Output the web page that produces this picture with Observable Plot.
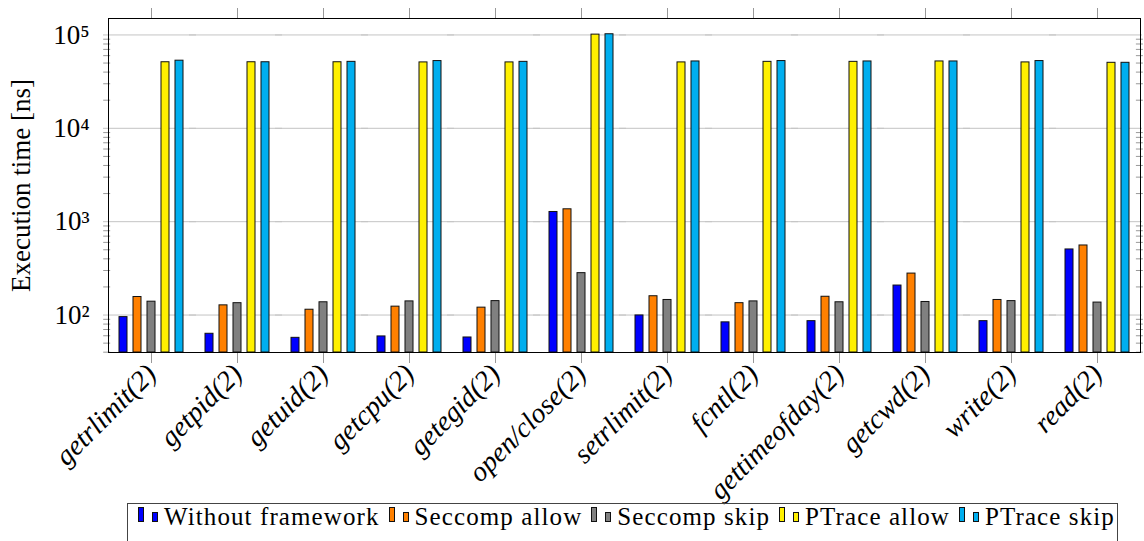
<!DOCTYPE html>
<html>
<head>
<meta charset="utf-8">
<script src="https://cdn.jsdelivr.net/npm/d3@7"></script>
<script src="https://cdn.jsdelivr.net/npm/@observablehq/plot@0.6"></script>
<style>
  body { margin: 0; background: #fff; font-family: "Liberation Serif", serif; }
  #chart { position: relative; width: 1144px; height: 541px; overflow: hidden; }
  #legend {
    position: absolute; left: 127px; top: 503px; width: 991px; height: 44px;
    box-sizing: border-box; border: 1px solid #444; display: flex; align-items: flex-start;
    padding-left: 8px; font-size: 25px; line-height: 1; letter-spacing: 1.1px;
  }
  #legend .item { display: flex; align-items: flex-start; margin-right: 7px; white-space: nowrap; }
  #legend svg { margin-right: 4px; }
</style>
</head>
<body>
<div id="chart"></div>
<script>
const categories = ["getrlimit(2)", "getpid(2)", "getuid(2)", "getcpu(2)", "getegid(2)", "open/close(2)",
  "setrlimit(2)", "fcntl(2)", "gettimeofday(2)", "getcwd(2)", "write(2)", "read(2)"];
const series = ["Without framework", "Seccomp allow", "Seccomp skip", "PTrace allow", "PTrace skip"];
const seriesColors = ["#0000ff", "#ff8000", "#808080", "#fff000", "#00aeef"];

const withoutFramework = [95, 63, 57, 59, 57.5, 1270, 99, 83.5, 86, 207, 86, 504];
const seccompAllow     = [156, 127, 114, 123, 120, 1357, 159, 134, 157, 278, 145, 556];
const seccompSkip      = [139, 134, 137, 140, 141, 281, 145, 140, 137, 138, 141, 136];
const ptraceAllow      = [51000, 51000, 51000, 50800, 50800, 100800, 50800, 51500, 51500, 52000, 50800, 50300];
const ptraceSkip       = [53000, 51000, 51500, 52500, 51500, 101700, 52000, 52500, 52000, 52000, 52500, 50300];

const yTickValues = [100, 1000, 10000, 100000];
const yTickLabels = ["10²", "10³", "10⁴", "10⁵"];
const yLabel = "Execution time [ns]";
const yMin = 39.7, yMax = 150000;

const seriesValues = [withoutFramework, seccompAllow, seccompSkip, ptraceAllow, ptraceSkip];
const data = categories.flatMap((c, i) => series.map((s, j) => ({category: c, series: s, value: seriesValues[j][i]})));
const minorTicks = [10, 100, 1000, 10000].flatMap(p => [2, 3, 4, 5, 6, 7, 8, 9].map(m => m * p))
  .filter(v => v >= yMin && v <= yMax);

const chart = Plot.plot({
  width: 1144, height: 503,
  marginLeft: 100, marginRight: 0.5, marginTop: 18, marginBottom: 151,
  style: {fontFamily: "'Liberation Serif', serif", background: "white", overflow: "visible"},
  fx: {domain: categories, paddingInner: 0, paddingOuter: 0.0388, align: 0.716, label: null},
  x: {domain: series, paddingInner: 0.403, paddingOuter: 0.7015, axis: null},
  y: {type: "log", domain: [yMin, yMax], axis: null, label: null},
  color: {domain: series, range: seriesColors},
  marks: [
    Plot.ruleY(yTickValues, {stroke: "#c4c4c4", strokeWidth: 1, insetLeft: -5, insetRight: -2}),
    Plot.barY(data, {fx: "category", x: "series", y1: yMin, y2: "value", fill: "series", stroke: "#111", strokeWidth: 1}),
    Plot.axisY(minorTicks, {anchor: "left", tickSize: -7, tickFormat: () => "", stroke: "#999", dx: -4.8, label: null}),
    Plot.axisY(minorTicks, {anchor: "right", tickSize: -7, tickFormat: () => "", stroke: "#999", dx: 1.9, label: null}),
    Plot.axisY(yTickValues, {anchor: "left", tickSize: 0, tickPadding: 14, fontSize: 27, dx: -4.8, label: null,
      tickFormat: d => yTickLabels[yTickValues.indexOf(d)]}),
    Plot.axisFx({anchor: "top", tickSize: 11, tickFormat: () => "", stroke: "#999", label: null}),
    Plot.axisFx({anchor: "bottom", tickSize: 11, tickRotate: -45, fontSize: 28, fontStyle: "italic",
      stroke: "#999", fill: "black", label: null}),
    Plot.text([yLabel], {facet: "super", frameAnchor: "left", textAnchor: "middle", rotate: -90, dx: -87, fontSize: 27}),
    Plot.frame({facet: "super", stroke: "black", strokeWidth: 1})
  ]
});
document.getElementById("chart").appendChild(chart);

// legend
const legend = document.createElement("div");
legend.id = "legend";
series.forEach((s, i) => {
  const item = document.createElement("span");
  item.className = "item";
  item.innerHTML = `<svg width="24" height="22"><rect x="2.5" y="3.5" width="5" height="14" fill="${seriesColors[i]}" stroke="#111"/><rect x="16.5" y="8.5" width="5" height="9" fill="${seriesColors[i]}" stroke="#111"/></svg>`;
  const t = document.createElement("span");
  t.textContent = s;
  item.appendChild(t);
  legend.appendChild(item);
});
document.getElementById("chart").appendChild(legend);
</script>
</body>
</html>
